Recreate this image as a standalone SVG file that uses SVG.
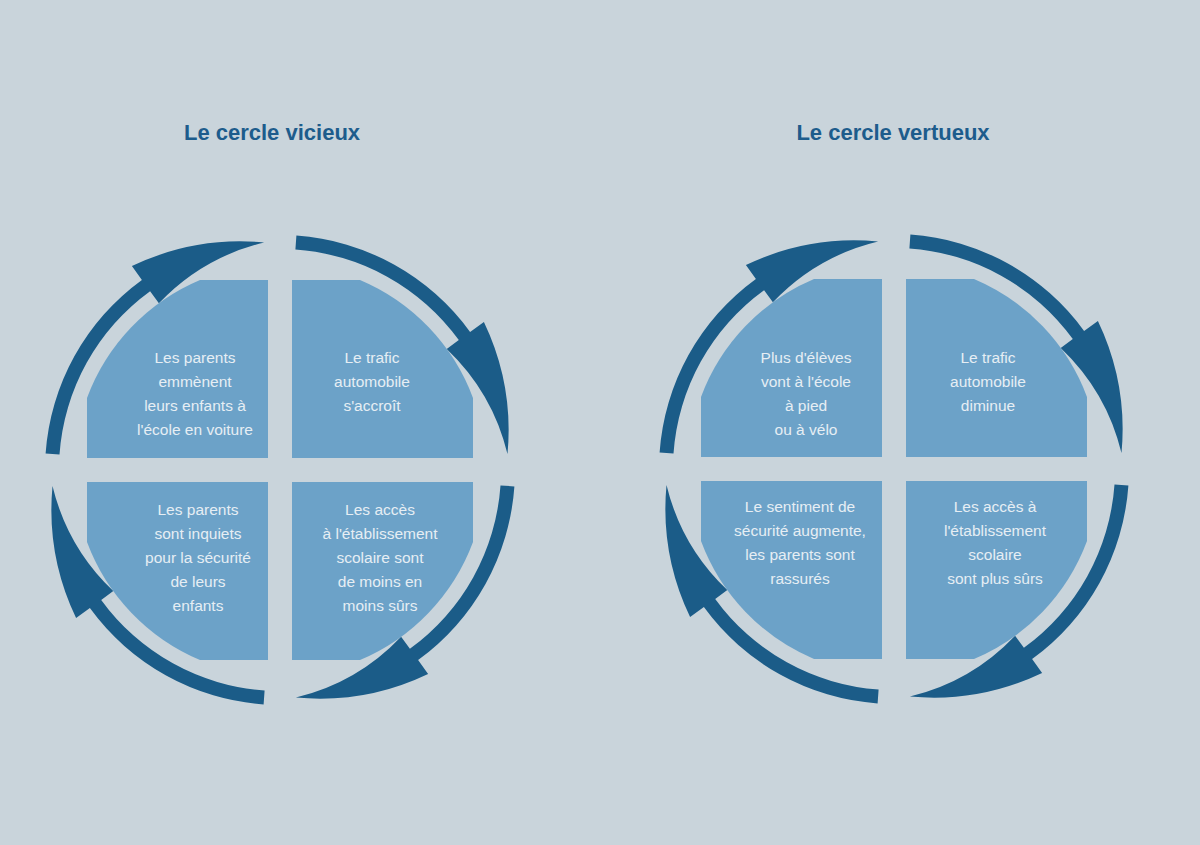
<svg xmlns="http://www.w3.org/2000/svg" xmlns:xlink="http://www.w3.org/1999/xlink" width="1200" height="845" viewBox="0 0 1200 845">
<style>
.t{font-family:"Liberation Sans",Arial,sans-serif;font-size:15.5px;fill:#e6eef4;text-anchor:middle}
.h{font-family:"Liberation Sans",Arial,sans-serif;font-size:22px;font-weight:bold;fill:#1d5c8c;text-anchor:middle}
.q{fill:#6ca2c8}
.a{fill:#1b5c88}
</style>
<defs>
<path id="arr" class="a" d="M-220.5,-15.4 L-234.4,-16.4 A235,235 0 0 1 -138.1,-190.1 L-148.1,-203.9 A252,252 0 0 1 -15.9,-227.5 A214,214 0 0 0 -121.1,-166.7 L-129.9,-178.8 A221,221 0 0 0 -220.5,-15.4 Z"/>
<path id="quad" class="q" d="M-12,-12 L-12,-190 L-80,-190 A206,206 0 0 0 -193,-72 L-193,-12 Z"/>
</defs>
<rect width="1200" height="845" fill="#c9d4db"/>
<text class="h" x="272" y="140">Le cercle vicieux</text>
<text class="h" x="893" y="140">Le cercle vertueux</text>
<g id="left" transform="translate(280,470)">
<g id="connectors-left">
<use href="#arr"/><use href="#arr" transform="rotate(90)"/><use href="#arr" transform="rotate(180)"/><use href="#arr" transform="rotate(270)"/>
</g>
<g id="l-tl"><use href="#quad"/><text class="t"><tspan x="-85" y="-107">Les parents</tspan><tspan x="-85" y="-83">emmènent</tspan><tspan x="-85" y="-59">leurs enfants à</tspan><tspan x="-85" y="-35">l'école en voiture</tspan></text></g>
<g id="l-tr"><use href="#quad" transform="scale(-1,1)"/><text class="t"><tspan x="92" y="-107">Le trafic</tspan><tspan x="92" y="-83">automobile</tspan><tspan x="92" y="-59">s'accroît</tspan></text></g>
<g id="l-bl"><use href="#quad" transform="scale(1,-1)"/><text class="t"><tspan x="-82" y="45">Les parents</tspan><tspan x="-82" y="69">sont inquiets</tspan><tspan x="-82" y="93">pour la sécurité</tspan><tspan x="-82" y="117">de leurs</tspan><tspan x="-82" y="141">enfants</tspan></text></g>
<g id="l-br"><use href="#quad" transform="scale(-1,-1)"/><text class="t"><tspan x="100" y="45">Les accès</tspan><tspan x="100" y="69">à l'établissement</tspan><tspan x="100" y="93">scolaire sont</tspan><tspan x="100" y="117">de moins en</tspan><tspan x="100" y="141">moins sûrs</tspan></text></g>
</g>
<g id="right" transform="translate(894,469)">
<g id="connectors-right">
<use href="#arr"/><use href="#arr" transform="rotate(90)"/><use href="#arr" transform="rotate(180)"/><use href="#arr" transform="rotate(270)"/>
</g>
<g id="r-tl"><use href="#quad"/><text class="t"><tspan x="-88" y="-106">Plus d'élèves</tspan><tspan x="-88" y="-82">vont à l'école</tspan><tspan x="-88" y="-58">à pied</tspan><tspan x="-88" y="-34">ou à vélo</tspan></text></g>
<g id="r-tr"><use href="#quad" transform="scale(-1,1)"/><text class="t"><tspan x="94" y="-106">Le trafic</tspan><tspan x="94" y="-82">automobile</tspan><tspan x="94" y="-58">diminue</tspan></text></g>
<g id="r-bl"><use href="#quad" transform="scale(1,-1)"/><text class="t"><tspan x="-94" y="43">Le sentiment de</tspan><tspan x="-94" y="67">sécurité augmente,</tspan><tspan x="-94" y="91">les parents sont</tspan><tspan x="-94" y="115">rassurés</tspan></text></g>
<g id="r-br"><use href="#quad" transform="scale(-1,-1)"/><text class="t"><tspan x="101" y="43">Les accès à</tspan><tspan x="101" y="67">l'établissement</tspan><tspan x="101" y="91">scolaire</tspan><tspan x="101" y="115">sont plus sûrs</tspan></text></g>
</g>
</svg>
